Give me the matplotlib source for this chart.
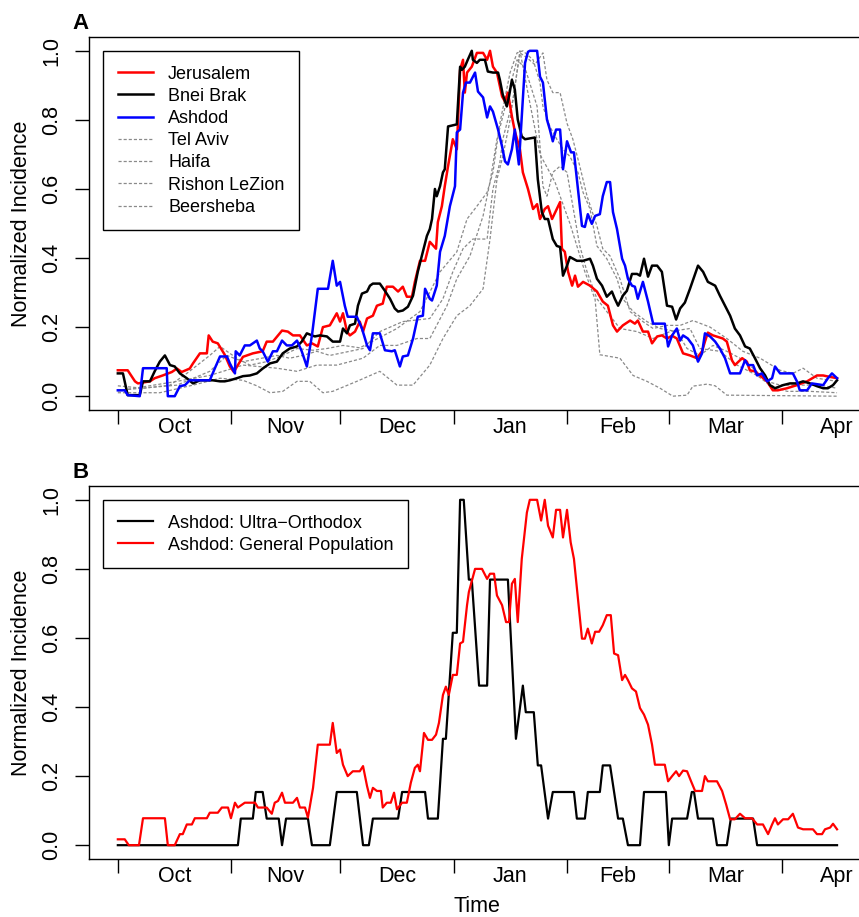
import numpy as np
import matplotlib.pyplot as plt

plt.rcParams['font.family'] = ['Liberation Sans', 'DejaVu Sans']

# x is days since 1 Oct
month_names = ["Oct", "Nov", "Dec", "Jan", "Feb", "Mar", "Apr"]
month_len = [31, 30, 31, 31, 28, 31, 30]

# ---- panel A : (day, normalized incidence) ----
jerusalem = [(0, 0.075), (2.7, 0.075), (4.7, 0.043), (5.5, 0.037), (8.8, 0.043), (10.1, 0.052), (12.3, 0.06),
             (14.8, 0.07), (16.2, 0.08), (17.5, 0.07), (19.7, 0.08), (20.6, 0.095), (22.5, 0.124), (24.4, 0.124),
             (24.9, 0.176), (26.0, 0.158), (27.4, 0.153), (29.3, 0.12), (30.7, 0.086), (31.8, 0.07), (32.9, 0.09),
             (34.3, 0.114), (37.0, 0.124), (39.7, 0.13), (40.8, 0.158), (42.5, 0.158), (45.0, 0.19), (46.6, 0.187),
             (48.0, 0.176), (49.9, 0.176), (51.8, 0.147), (53.2, 0.153), (54.8, 0.144), (56.2, 0.2), (58.1, 0.205),
             (60.0, 0.24), (60.9, 0.216), (61.7, 0.24), (62.8, 0.187), (63.6, 0.176), (65.0, 0.187), (66.3, 0.216),
             (67.2, 0.187), (68.3, 0.225), (69.9, 0.233), (71.0, 0.262), (72.6, 0.268), (73.7, 0.317), (75.4, 0.317),
             (76.8, 0.303), (78.1, 0.317), (79.2, 0.288), (80.6, 0.288), (81.4, 0.331), (82.8, 0.392), (84.2, 0.392),
             (85.5, 0.447), (87.2, 0.427), (87.7, 0.504), (88.8, 0.55), (89.6, 0.608), (90.5, 0.666), (91.8, 0.744),
             (92.9, 0.715), (93.2, 0.79), (93.8, 0.945), (94.6, 0.974), (95.1, 0.879), (95.7, 0.937), (97.0, 0.954),
             (98.4, 0.994), (100.1, 0.994), (101.2, 0.974), (102.0, 1.0), (102.8, 0.954), (103.9, 0.937), (105.3, 0.868),
             (106.1, 0.853), (106.9, 0.879), (108.0, 0.81), (108.8, 0.767), (110.2, 0.715), (111.0, 0.648), (112.4, 0.6),
             (113.8, 0.542), (114.9, 0.556), (115.7, 0.513), (117.0, 0.542), (117.9, 0.55), (119.0, 0.513), (120.3, 0.542),
             (121.2, 0.562), (121.7, 0.427), (122.5, 0.418), (123.4, 0.36), (124.5, 0.32), (125.3, 0.349), (126.1, 0.317),
             (127.5, 0.331), (129.4, 0.32), (131.3, 0.303), (132.9, 0.274), (134.3, 0.262), (135.7, 0.205), (136.8, 0.187),
             (138.4, 0.205), (140.4, 0.219), (141.7, 0.21), (142.5, 0.219), (143.9, 0.187), (145.3, 0.187), (146.4, 0.153),
             (147.8, 0.173), (149.1, 0.176), (150.5, 0.167), (151.9, 0.175), (153.2, 0.167), (154.9, 0.124), (156.8, 0.118),
             (158.7, 0.11), (160.1, 0.13), (160.9, 0.158), (161.7, 0.184), (163.1, 0.176), (165.8, 0.167), (166.9, 0.158),
             (168.3, 0.104), (169.1, 0.09), (171.1, 0.11), (172.4, 0.1), (173.2, 0.075), (174.6, 0.072), (176.0, 0.06),
             (177.9, 0.043), (179.5, 0.017), (180.9, 0.017), (183.4, 0.023), (186.1, 0.032), (188.9, 0.043), (191.6, 0.06),
             (193.3, 0.06), (194.6, 0.057), (197.1, 0.052)]

bnei_brak = [(0, 0.066), (1.4, 0.066), (2.7, 0.003), (6.0, 0.003), (6.9, 0.043), (8.8, 0.043), (10.1, 0.072),
             (11.5, 0.1), (12.9, 0.118), (14.3, 0.09), (15.6, 0.086), (17.0, 0.066), (18.9, 0.052), (20.6, 0.037),
             (22.5, 0.046), (26.0, 0.046), (28.0, 0.043), (29.3, 0.043), (30.7, 0.046), (32.6, 0.052), (34.3, 0.058),
             (36.2, 0.06), (38.1, 0.066), (39.7, 0.08), (41.7, 0.095), (43.6, 0.1), (45.2, 0.124), (47.1, 0.138),
             (49.1, 0.144), (50.4, 0.158), (51.8, 0.182), (53.2, 0.176), (54.0, 0.173), (55.4, 0.176), (57.3, 0.173),
             (58.9, 0.158), (60.9, 0.158), (61.7, 0.196), (62.8, 0.182), (63.6, 0.205), (65.0, 0.21), (65.8, 0.262),
             (66.9, 0.297), (68.3, 0.303), (69.1, 0.32), (69.9, 0.326), (71.8, 0.326), (73.2, 0.305), (74.6, 0.282),
             (75.9, 0.254), (76.8, 0.245), (78.1, 0.248), (79.5, 0.259), (80.9, 0.291), (82.2, 0.36), (83.6, 0.418),
             (84.7, 0.464), (85.5, 0.484), (86.1, 0.513), (86.9, 0.6), (87.4, 0.579), (88.3, 0.608), (89.1, 0.648),
             (89.6, 0.657), (90.5, 0.781), (92.9, 0.787), (93.8, 0.954), (94.3, 0.945), (95.1, 0.954), (95.9, 0.974),
             (97.0, 1.0), (97.3, 0.974), (98.4, 0.965), (99.2, 0.974), (100.6, 0.974), (101.4, 0.94), (102.8, 0.937),
             (104.2, 0.937), (104.7, 0.916), (105.5, 0.873), (106.6, 0.839), (107.2, 0.868), (108.0, 0.916),
             (108.8, 0.888), (109.6, 0.801), (110.7, 0.752), (111.6, 0.744), (114.3, 0.749), (115.1, 0.628),
             (116.2, 0.533), (117.0, 0.513), (117.9, 0.513), (119.2, 0.455), (120.3, 0.435), (121.2, 0.432),
             (122.0, 0.349), (123.1, 0.378), (123.9, 0.403), (125.8, 0.392), (127.5, 0.392), (129.4, 0.398),
             (130.2, 0.378), (131.3, 0.34), (132.7, 0.32), (134.0, 0.288), (135.4, 0.303), (136.2, 0.282),
             (137.1, 0.262), (138.4, 0.291), (139.5, 0.305), (140.9, 0.354), (142.3, 0.354), (143.1, 0.349),
             (144.2, 0.398), (145.3, 0.346), (146.4, 0.378), (147.8, 0.378), (149.1, 0.36), (150.5, 0.262),
             (151.9, 0.259), (153.0, 0.222), (154.1, 0.254), (155.4, 0.271), (156.8, 0.311), (159.0, 0.378),
             (160.4, 0.36), (161.7, 0.331), (163.7, 0.32), (165.0, 0.291), (166.4, 0.262), (167.8, 0.233),
             (169.1, 0.196), (170.5, 0.176), (171.9, 0.144), (173.2, 0.138), (174.6, 0.11), (176.0, 0.081),
             (177.4, 0.06), (178.7, 0.032), (180.1, 0.023), (182.3, 0.032), (184.2, 0.037), (186.1, 0.037),
             (187.8, 0.043), (189.7, 0.037), (191.6, 0.029), (193.3, 0.023), (194.6, 0.023), (196.0, 0.032),
             (197.1, 0.046)]

ashdod = [(0, 0.017), (1.9, 0.017), (2.7, 0.003), (6.0, 0.0), (6.9, 0.081), (13.4, 0.081), (13.7, 0.0), (15.6, 0.0),
          (17.0, 0.029), (18.4, 0.032), (19.7, 0.046), (25.2, 0.046), (26.6, 0.081), (28.0, 0.115), (29.9, 0.115),
          (30.7, 0.095), (32.1, 0.066), (32.3, 0.13), (33.4, 0.118), (34.8, 0.147), (36.2, 0.147), (38.1, 0.161),
          (38.9, 0.138), (39.7, 0.13), (41.1, 0.1), (42.5, 0.13), (43.6, 0.13), (45.0, 0.161), (46.3, 0.147),
          (47.7, 0.147), (49.1, 0.161), (50.4, 0.13), (51.8, 0.086), (53.2, 0.176), (54.8, 0.311), (57.6, 0.311),
          (58.9, 0.392), (60.0, 0.32), (60.9, 0.331), (62.2, 0.262), (63.0, 0.23), (65.5, 0.23), (66.9, 0.196),
          (68.3, 0.147), (69.1, 0.133), (69.9, 0.182), (71.8, 0.182), (73.2, 0.133), (75.1, 0.13), (75.9, 0.133),
          (77.3, 0.086), (78.1, 0.115), (79.5, 0.118), (80.9, 0.167), (82.2, 0.23), (83.6, 0.233), (84.2, 0.311),
          (85.5, 0.282), (86.1, 0.277), (87.4, 0.32), (88.3, 0.418), (89.6, 0.464), (91.0, 0.55), (92.4, 0.608),
          (92.9, 0.764), (93.8, 0.772), (94.6, 0.879), (95.4, 0.908), (96.5, 0.908), (97.9, 0.937), (98.7, 0.882),
          (100.1, 0.865), (101.2, 0.807), (102.0, 0.839), (102.8, 0.824), (104.2, 0.772), (105.3, 0.723),
          (106.1, 0.68), (106.9, 0.671), (108.0, 0.715), (108.8, 0.772), (109.4, 0.715), (109.9, 0.671),
          (111.0, 0.859), (111.6, 0.965), (112.4, 0.997), (112.9, 1.0), (114.9, 1.0), (115.7, 0.925), (116.5, 0.908),
          (117.6, 0.801), (118.4, 0.772), (119.2, 0.738), (120.1, 0.772), (121.2, 0.772), (122.0, 0.657),
          (123.1, 0.738), (124.2, 0.706), (125.0, 0.706), (125.8, 0.628), (127.2, 0.493), (128.0, 0.49),
          (128.8, 0.527), (129.9, 0.499), (130.8, 0.522), (132.1, 0.527), (132.9, 0.579), (134.0, 0.62),
          (134.9, 0.62), (135.7, 0.533), (136.8, 0.484), (138.2, 0.398), (139.0, 0.378), (139.8, 0.34),
          (140.9, 0.32), (141.7, 0.317), (142.5, 0.282), (143.9, 0.331), (145.3, 0.274), (146.7, 0.21),
          (149.9, 0.21), (150.8, 0.144), (151.9, 0.176), (153.2, 0.196), (154.1, 0.161), (154.9, 0.176),
          (156.2, 0.167), (157.6, 0.147), (159.0, 0.1), (160.1, 0.124), (160.9, 0.182), (162.3, 0.173),
          (163.7, 0.158), (165.0, 0.138), (166.4, 0.11), (167.8, 0.066), (170.5, 0.066), (171.9, 0.104),
          (172.7, 0.09), (174.1, 0.09), (175.2, 0.06), (176.5, 0.066), (177.9, 0.043), (179.3, 0.052),
          (180.1, 0.086), (181.5, 0.066), (185.0, 0.066), (186.1, 0.043), (186.9, 0.017), (188.9, 0.017),
          (190.2, 0.037), (193.3, 0.032), (194.6, 0.052), (195.7, 0.066), (197.1, 0.052)]

tel_aviv = [(0, 0.03), (6.9, 0.023), (14.3, 0.032), (18.9, 0.066), (25.2, 0.118), (28.0, 0.144), (32.6, 0.11),
            (36.2, 0.09), (40.8, 0.1), (45.2, 0.118), (49.1, 0.138), (53.5, 0.133), (57.3, 0.138), (61.7, 0.147),
            (66.3, 0.14), (71.8, 0.17), (76.5, 0.196), (82.8, 0.245), (88.3, 0.36), (92.9, 0.418), (95.7, 0.513),
            (98.4, 0.55), (101.2, 0.59), (102.8, 0.648), (104.7, 0.79), (107.5, 0.937), (109.4, 0.994), (111.0, 1.0),
            (113.8, 0.974), (115.7, 0.908), (116.5, 0.839), (118.4, 0.781), (120.3, 0.744), (122.0, 0.715),
            (123.9, 0.694), (126.1, 0.648), (127.5, 0.59), (129.4, 0.542), (131.3, 0.435), (134.0, 0.398),
            (136.8, 0.34), (138.4, 0.282), (141.2, 0.245), (145.0, 0.216), (148.6, 0.196), (153.2, 0.187),
            (156.0, 0.138), (159.5, 0.118), (163.1, 0.147), (166.9, 0.13), (170.5, 0.11), (174.1, 0.081),
            (177.9, 0.043), (181.5, 0.032), (186.9, 0.032), (192.4, 0.032), (197.1, 0.023)]

haifa = [(0, 0.01), (11.5, 0.01), (20.6, 0.032), (28.0, 0.052), (34.3, 0.046), (38.1, 0.03), (41.7, 0.01),
         (45.2, 0.014), (49.1, 0.043), (52.6, 0.043), (56.2, 0.01), (58.9, 0.014), (65.5, 0.043), (71.8, 0.072),
         (76.5, 0.032), (80.9, 0.032), (85.5, 0.09), (89.1, 0.167), (92.9, 0.233), (96.5, 0.262), (100.1, 0.311),
         (102.0, 0.455), (103.9, 0.628), (105.5, 0.694), (107.5, 0.8), (110.2, 1.0), (112.9, 0.85), (115.7, 0.7),
         (119.8, 0.62), (123.9, 0.5), (128.0, 0.36), (130.8, 0.28), (132.1, 0.12), (137.6, 0.11), (141.2, 0.06),
         (145.0, 0.043), (148.6, 0.023), (152.1, 0.0), (156.0, 0.003), (157.6, 0.029), (161.5, 0.035),
         (163.7, 0.03), (166.9, 0.003), (197.1, 0.0)]

rishon = [(0, 0.017), (16.2, 0.032), (25.2, 0.072), (29.9, 0.118), (34.3, 0.1), (43.6, 0.118), (47.1, 0.11),
          (50.7, 0.118), (54.5, 0.13), (58.1, 0.118), (67.2, 0.138), (71.8, 0.187), (78.1, 0.216), (85.5, 0.225),
          (89.1, 0.282), (91.8, 0.36), (94.6, 0.427), (97.3, 0.455), (101.2, 0.455), (102.8, 0.6), (104.7, 0.677),
          (105.5, 0.744), (108.3, 0.859), (110.2, 0.994), (112.1, 0.98), (114.3, 0.96), (116.5, 0.994),
          (117.6, 0.916), (119.2, 0.879), (121.2, 0.879), (123.1, 0.79), (124.7, 0.744), (126.6, 0.666),
          (128.6, 0.579), (131.3, 0.493), (132.9, 0.427), (134.9, 0.406), (137.6, 0.34), (140.4, 0.245),
          (143.9, 0.216), (146.7, 0.196), (150.5, 0.205), (154.1, 0.205), (157.6, 0.219), (162.3, 0.2),
          (166.9, 0.167), (171.3, 0.13), (176.0, 0.11), (181.5, 0.075), (185.0, 0.066), (187.8, 0.081),
          (191.6, 0.052), (197.1, 0.043)]

beersheba = [(0, 0.015), (16.2, 0.043), (25.2, 0.06), (34.3, 0.09), (43.6, 0.081), (49.1, 0.072), (54.5, 0.09),
             (60.0, 0.09), (63.6, 0.1), (67.2, 0.11), (71.8, 0.147), (76.5, 0.147), (82.0, 0.167), (85.5, 0.167),
             (90.2, 0.262), (92.9, 0.34), (96.5, 0.406), (100.1, 0.522), (102.0, 0.62), (103.9, 0.744), (105.5, 0.81),
             (107.5, 0.896), (109.4, 0.974), (111.6, 0.95), (114.9, 0.839), (116.5, 0.608), (117.6, 0.579),
             (119.2, 0.648), (121.2, 0.666), (123.1, 0.648), (124.7, 0.55), (126.6, 0.435), (128.6, 0.36),
             (131.3, 0.282), (134.0, 0.245), (137.6, 0.196), (142.3, 0.187), (146.7, 0.167), (151.3, 0.187),
             (156.8, 0.196), (159.5, 0.138), (165.0, 0.13), (169.7, 0.09), (175.2, 0.06), (178.7, 0.032),
             (183.4, 0.014), (189.7, 0.014), (197.1, 0.01)]

# ---- panel B ----
ultra_orthodox = [(0, 0), (32.9, 0), (33.7, 0.077), (37.0, 0.077), (37.8, 0.154), (39.7, 0.154), (40.8, 0.077),
                  (44.1, 0.077), (45.0, 0), (46.1, 0.077), (52.1, 0.077), (53.2, 0), (58.1, 0), (60.0, 0.154),
                  (65.5, 0.154), (67.2, 0), (68.8, 0), (69.9, 0.077), (76.8, 0.077), (77.9, 0.154), (84.2, 0.154),
                  (85.0, 0.077), (87.7, 0.077), (89.1, 0.308), (89.9, 0.308), (91.8, 0.615), (92.9, 0.615),
                  (93.8, 1.0), (94.8, 1.0), (96.2, 0.769), (97.0, 0.769), (99.0, 0.462), (101.2, 0.462),
                  (102.0, 0.769), (106.9, 0.769), (109.1, 0.308), (111.0, 0.462), (111.8, 0.385), (114.0, 0.385),
                  (115.1, 0.231), (116.0, 0.231), (117.9, 0.077), (119.2, 0.154), (125.0, 0.154), (125.8, 0.077),
                  (128.0, 0.077), (128.8, 0.154), (132.1, 0.154), (132.9, 0.231), (134.9, 0.231), (137.1, 0.077),
                  (138.4, 0.077), (139.8, 0), (143.1, 0), (144.2, 0.154), (150.2, 0.154), (151.0, 0),
                  (151.9, 0.077), (156.0, 0.077), (157.3, 0.154), (157.9, 0.154), (159.0, 0.077), (163.1, 0.077),
                  (164.2, 0), (166.9, 0), (168.0, 0.077), (174.1, 0.077), (175.2, 0), (197.1, 0)]

general_pop = [(0, 0.017), (1.9, 0.017), (3.0, 0), (5.8, 0), (6.9, 0.078), (12.9, 0.078), (13.7, 0), (15.6, 0),
               (17.0, 0.032), (17.8, 0.032), (18.9, 0.06), (20.3, 0.06), (21.1, 0.078), (24.4, 0.078), (25.2, 0.094),
               (27.4, 0.094), (28.5, 0.109), (30.2, 0.109), (31.0, 0.078), (32.1, 0.123), (32.9, 0.109),
               (34.8, 0.123), (37.6, 0.123), (38.4, 0.109), (40.8, 0.109), (42.2, 0.091), (43.0, 0.123),
               (43.9, 0.128), (45.0, 0.152), (45.8, 0.123), (48.0, 0.123), (49.1, 0.137), (49.9, 0.109),
               (51.3, 0.109), (52.1, 0.08), (53.5, 0.166), (54.8, 0.291), (58.1, 0.291), (58.9, 0.354), (60.0, 0.267),
               (60.9, 0.277), (61.7, 0.233), (63.0, 0.2), (64.4, 0.214), (66.3, 0.214), (67.2, 0.229), (68.3, 0.171),
               (69.1, 0.137), (69.9, 0.166), (71.0, 0.157), (72.1, 0.157), (72.6, 0.109), (73.7, 0.123),
               (74.8, 0.123), (75.7, 0.152), (76.5, 0.104), (77.9, 0.123), (79.2, 0.123), (80.3, 0.181),
               (81.4, 0.224), (82.2, 0.233), (82.8, 0.214), (83.9, 0.325), (85.0, 0.305), (86.1, 0.305),
               (87.2, 0.32), (88.0, 0.354), (89.1, 0.435), (89.9, 0.459), (90.7, 0.435), (91.8, 0.493),
               (92.9, 0.493), (93.8, 0.584), (94.6, 0.589), (95.7, 0.695), (96.2, 0.733), (97.9, 0.8), (99.8, 0.8),
               (101.2, 0.771), (102.0, 0.786), (103.1, 0.786), (103.9, 0.723), (105.3, 0.695), (106.4, 0.646),
               (107.2, 0.646), (108.0, 0.757), (108.8, 0.771), (109.6, 0.646), (110.7, 0.829), (112.1, 0.963),
               (112.9, 1.0), (114.9, 1.0), (116.0, 0.94), (117.0, 1.0), (117.9, 0.925), (119.2, 0.891),
               (120.1, 0.971), (121.2, 0.971), (122.0, 0.891), (123.1, 0.971), (124.1, 0.877), (125.0, 0.829),
               (126.1, 0.714), (127.2, 0.598), (128.0, 0.598), (128.8, 0.627), (129.9, 0.584), (130.8, 0.618),
               (131.9, 0.618), (132.9, 0.637), (134.0, 0.666), (135.1, 0.666), (136.0, 0.555), (137.1, 0.55),
               (138.2, 0.478), (139.0, 0.493), (139.8, 0.478), (140.9, 0.454), (142.0, 0.445), (143.1, 0.397),
               (144.2, 0.378), (145.3, 0.349), (146.4, 0.291), (147.2, 0.233), (149.9, 0.233), (150.8, 0.185),
               (151.9, 0.2), (153.0, 0.214), (153.8, 0.2), (154.9, 0.216), (156.0, 0.214), (157.1, 0.185),
               (158.2, 0.157), (160.1, 0.157), (160.9, 0.2), (161.7, 0.185), (164.2, 0.185), (165.6, 0.157),
               (166.7, 0.118), (167.8, 0.075), (169.1, 0.075), (170.5, 0.091), (171.9, 0.078), (173.8, 0.078),
               (175.2, 0.06), (176.8, 0.06), (178.2, 0.032), (179.3, 0.06), (180.1, 0.078), (180.9, 0.06),
               (182.3, 0.075), (183.7, 0.075), (185.0, 0.091), (186.4, 0.051), (187.8, 0.046), (190.5, 0.046),
               (191.6, 0.032), (193.0, 0.032), (193.8, 0.046), (195.2, 0.051), (196.0, 0.062), (197.1, 0.046)]


def xy(pairs):
    d, v = zip(*pairs)
    return np.array(d), np.array(v)


month_start = np.concatenate([[0], np.cumsum(month_len)[:-1]])
month_mid = month_start + np.array(month_len) / 2.0


def style_axis(ax):
    ax.set_xlim(-7.9, 204.9)
    ax.set_ylim(-0.04, 1.04)
    ax.set_xticks(month_start)
    ax.set_xticklabels([])
    ax.set_xticks(month_mid, minor=True)
    ax.set_xticklabels(month_names, minor=True)
    ax.tick_params(axis='x', which='major', length=10, width=1.0, direction='out')
    ax.tick_params(axis='x', which='minor', length=0, pad=5, labelsize=15.5)
    ax.set_yticks(np.arange(0, 1.01, 0.2))
    ax.set_yticklabels([f"{t:.1f}" for t in np.arange(0, 1.01, 0.2)], rotation=90, va='center')
    ax.tick_params(axis='y', length=10, width=1.0, direction='out', pad=9.5, labelsize=15.5)
    for s in ax.spines.values():
        s.set_linewidth(1.0)
    ax.set_ylabel("Normalized Incidence", fontsize=15.5)
    ax.yaxis.set_label_coords(-0.074, 0.5)


def r_legend(ax, handles, labels):
    leg = ax.legend(handles, labels, loc='upper left', fontsize=13, frameon=True, fancybox=False,
                    framealpha=1, edgecolor='black', borderaxespad=0.78, handlelength=1.95,
                    handletextpad=0.85, labelspacing=0.29, borderpad=0.8)
    leg.get_frame().set_linewidth(1.0)
    return leg


fig = plt.figure(figsize=(8.59, 9.17), dpi=100)
axA = fig.add_axes([89 / 859, 1 - 410 / 917, 776.5 / 859, 373 / 917])
axB = fig.add_axes([89 / 859, 1 - 859 / 917, 776.5 / 859, 373 / 917])

# panel A
grey = dict(color='#8a8a8a', lw=0.9, dashes=(2.5, 1.6))
for series in [tel_aviv, haifa, rishon, beersheba]:
    axA.plot(*xy(series), **grey)
lj, = axA.plot(*xy(jerusalem), color='red', lw=1.8)
lb, = axA.plot(*xy(bnei_brak), color='black', lw=1.8)
la, = axA.plot(*xy(ashdod), color='blue', lw=1.8)
g_handles = [plt.Line2D([], [], **grey) for _ in range(4)]
r_legend(axA, [lj, lb, la] + g_handles,
         ["Jerusalem", "Bnei Brak", "Ashdod", "Tel Aviv", "Haifa", "Rishon LeZion", "Beersheba"])
style_axis(axA)

# panel B
lu, = axB.plot(*xy(ultra_orthodox), color='black', lw=1.6)
lg, = axB.plot(*xy(general_pop), color='red', lw=1.6)
r_legend(axB, [lu, lg], ["Ashdod: Ultra\u2212Orthodox", "Ashdod: General Population"])
style_axis(axB)
axB.set_xlabel("Time", fontsize=15.5)
axB.xaxis.set_label_coords(0.5, -0.099)

fig.text(72 / 859, 1 - 29 / 917, "A", fontsize=16, fontweight='bold', va='baseline', ha='left')
fig.text(72 / 859, 1 - 478 / 917, "B", fontsize=16, fontweight='bold', va='baseline', ha='left')

fig.savefig("out.png", dpi=100)
